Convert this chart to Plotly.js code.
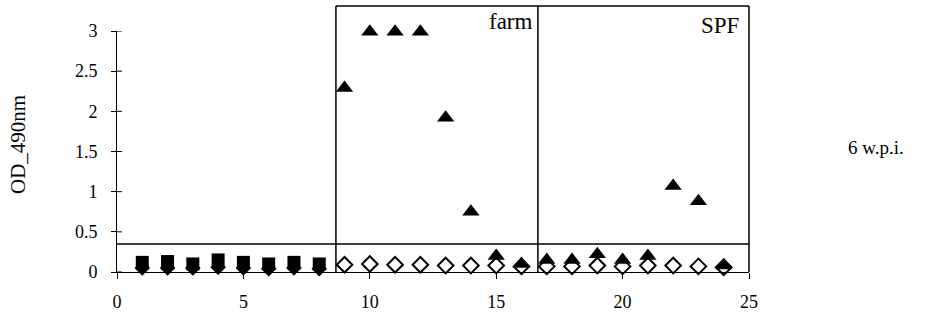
<!DOCTYPE html>
<html>
<head>
<meta charset="utf-8">
<script src="https://cdn.plot.ly/plotly-3.0.1.min.js"></script>
<style>html,body{margin:0;padding:0;background:#fff;}#chart{width:940px;height:314px;}</style>
</head>
<body>
<div id="chart"></div>
<script>
// Control group (x = 1..8)
const ctrlX = [1, 2, 3, 4, 5, 6, 7, 8];
const ctrlSquares = [0.12, 0.13, 0.10, 0.15, 0.12, 0.10, 0.12, 0.10];
const ctrlDiamonds = [0.05, 0.05, 0.05, 0.06, 0.05, 0.04, 0.05, 0.04];

// Infected groups (farm x = 9..16, SPF x = 17..24)
const infX = [9, 10, 11, 12, 13, 14, 15, 16, 17, 18, 19, 20, 21, 22, 23, 24];
const openDiamonds = [0.09, 0.10, 0.09, 0.09, 0.08, 0.08, 0.08, 0.07, 0.07, 0.07, 0.08, 0.07, 0.08, 0.08, 0.07, 0.06];
const triangles = [2.29, 2.99, 2.99, 2.99, 1.92, 0.75, 0.20, 0.10, 0.15, 0.15, 0.22, 0.15, 0.20, 1.07, 0.88, 0.08];

const cutoff = 0.35;
const farmStart = 8.66, farmEnd = 16.65;
const yTicks = [0, 0.5, 1, 1.5, 2, 2.5, 3];
const xTicks = [0, 5, 10, 15, 20, 25];

const FAM = 'Liberation Serif, Times New Roman, serif';
function f(size) { return {family: FAM, size: size, color: '#000'}; }

const traces = [
  {x: ctrlX, y: ctrlDiamonds, mode: 'markers', type: 'scatter',
   marker: {symbol: 'diamond', size: 12, color: '#000'}, cliponaxis: false},
  {x: ctrlX, y: ctrlSquares, mode: 'markers', type: 'scatter',
   marker: {symbol: 'square', size: 13, color: '#000'}, cliponaxis: false},
  {x: infX, y: openDiamonds, mode: 'markers', type: 'scatter',
   marker: {symbol: 'diamond-open', size: 12, color: '#000', line: {width: 2, color: '#000'}}, cliponaxis: false},
  {x: infX, y: triangles, mode: 'markers', type: 'scatter',
   marker: {symbol: 'triangle-up', size: 15, color: '#000'}, cliponaxis: false}
];

const plotTop = 31, plotBottom = 272, plotH = plotBottom - plotTop, plotW = 632;
const boxTop = 1 + (plotTop - 6) / plotH;
const ln = {color: '#000', width: 1.5};

const layout = {
  width: 940, height: 314,
  margin: {l: 117, r: 191, t: plotTop, b: 314 - plotBottom},
  paper_bgcolor: '#fff', plot_bgcolor: '#fff',
  showlegend: false,
  font: f(18),
  xaxis: {range: [0, 25], tickvals: xTicks, ticktext: xTicks.map(String),
    showgrid: false, zeroline: false, showline: true, linecolor: '#000', linewidth: 1,
    ticks: 'outside', ticklen: 6, tickcolor: '#000', ticklabelstandoff: 7,
    tickfont: f(18), fixedrange: true},
  yaxis: {range: [0, 3], tickvals: yTicks, ticktext: yTicks.map(String),
    showgrid: false, zeroline: false, showline: true, linecolor: '#000', linewidth: 1,
    ticks: 'outside', ticklen: 5, tickcolor: '#000', ticklabelstandoff: 10,
    tickfont: f(18), fixedrange: true},
  shapes: [
    {type: 'line', xref: 'paper', yref: 'y', x0: 0, x1: 1, y0: cutoff, y1: cutoff, line: ln},
    {type: 'line', xref: 'x', yref: 'paper', x0: farmStart, x1: farmStart, y0: 0, y1: boxTop, line: ln},
    {type: 'line', xref: 'x', yref: 'paper', x0: farmEnd, x1: farmEnd, y0: 0, y1: boxTop, line: ln},
    {type: 'line', xref: 'paper', yref: 'paper', x0: 1, x1: 1, y0: 0, y1: boxTop, line: ln},
    {type: 'line', xref: 'x', yref: 'paper', x0: farmStart, x1: 25, y0: boxTop, y1: boxTop, line: ln},
    ...yTicks.map(v => ({type: 'line', xref: 'paper', yref: 'y', x0: 0, x1: 5 / plotW, y0: v, y1: v, line: {color: '#000', width: 1}}))
  ],
  annotations: [
    {text: 'OD_490nm', xref: 'paper', yref: 'paper', x: (18 - 117) / plotW, y: 1 - (145 - plotTop) / plotH,
     xanchor: 'center', yanchor: 'middle', textangle: -90, showarrow: false, font: f(21)},
    {text: 'farm', xref: 'x', yref: 'paper', x: farmEnd - 0.12, y: boxTop - 0.005, xanchor: 'right', yanchor: 'top',
     showarrow: false, font: f(23)},
    {text: 'SPF', xref: 'x', yref: 'paper', x: 24.7, y: boxTop - 0.02, xanchor: 'right', yanchor: 'top',
     showarrow: false, font: f(23)},
    {text: '6 w.p.i.', xref: 'paper', yref: 'paper', x: 1 + (876 - 749) / plotW, y: 1 - (147 - plotTop) / plotH,
     xanchor: 'center', yanchor: 'middle', showarrow: false, font: f(19)}
  ]
};

Plotly.newPlot('chart', traces, layout, {displayModeBar: false, staticPlot: true});
</script>
</body>
</html>
